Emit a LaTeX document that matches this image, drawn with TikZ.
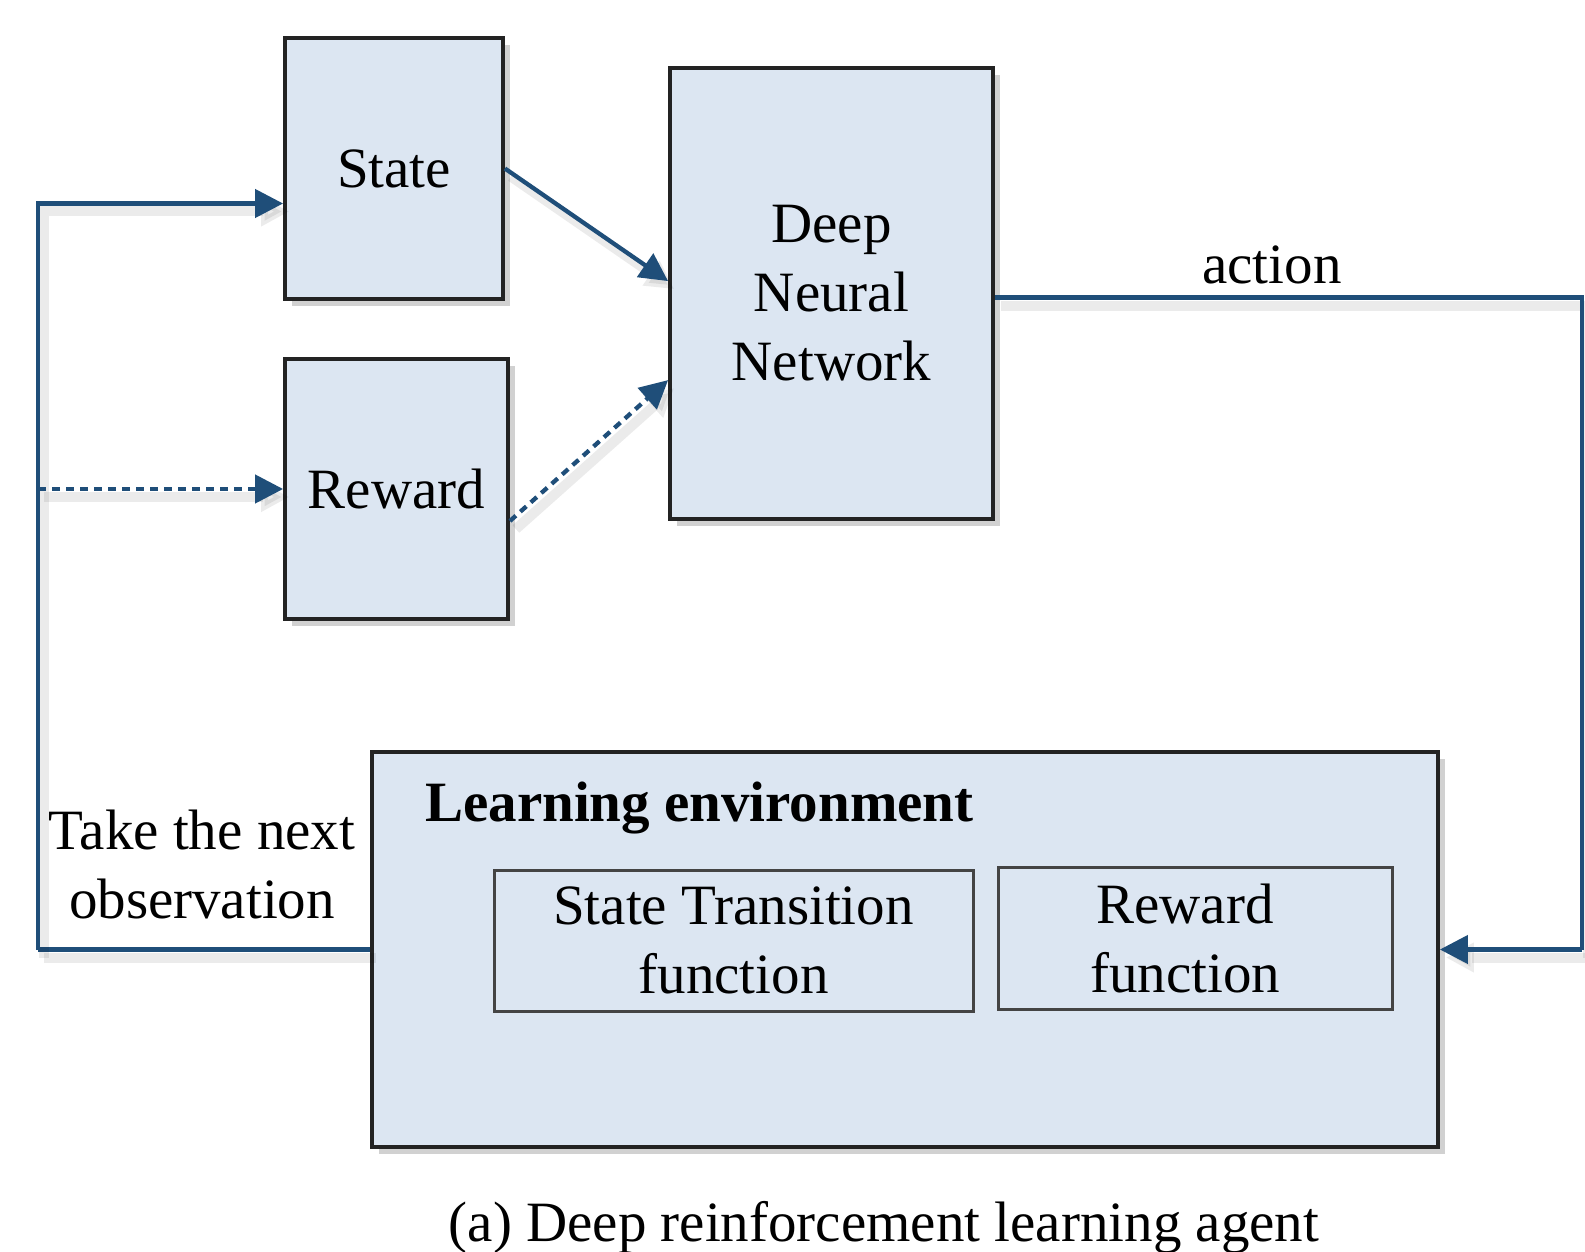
\documentclass[tikz,border=0pt]{standalone}
\usepackage{fontspec}
\setmainfont{Liberation Serif}
\usetikzlibrary{arrows.meta,shadows}
\definecolor{boxfill}{RGB}{220,230,242}
\definecolor{flowblue}{RGB}{31,78,121}
\definecolor{boxline}{RGB}{35,35,35}
\tikzset{
  block/.style={draw=boxline, line width=3.8pt, fill=boxfill, inner sep=0pt,
    align=center, font=\fontsize{57}{69}\selectfont,
    drop shadow={shadow xshift=7pt, shadow yshift=-7pt, fill=black, opacity=0.18}},
  inner block/.style={draw=boxline!85, line width=3pt, fill=boxfill, inner sep=0pt,
    align=center, font=\fontsize{57}{69}\selectfont},
  soft shade/.style={preaction={draw=black, opacity=0.08, line width=10pt,
    transform canvas={shift={(6pt,-8pt)}}}},
  link/.style={draw=flowblue, line width=4.3pt, soft shade},
  flow/.style={link, -{Triangle[length=28pt,width=28pt]}},
  dotflow/.style={flow, dash pattern=on 8pt off 6pt},
  label/.style={font=\fontsize{57}{69}\selectfont, align=center, inner sep=0pt}
}
\begin{document}
\begin{tikzpicture}[x=1pt, y=-1pt]
  \useasboundingbox (0,0) rectangle (1585,1252);

  % agent blocks
  \node[block, minimum width=218pt, minimum height=261pt] (state) at (394,168.5) {State};
  \node[block, minimum width=223pt, minimum height=260pt] (reward) at (396.5,489) {Reward};
  \node[block, minimum width=323pt, minimum height=451pt] (dnn) at (831.5,293.5) {Deep\\Neural\\Network};

  % environment and its two functions
  \node[block, minimum width=1066pt, minimum height=395pt] (env) at (905,949.5) {};
  \node[label, font=\fontsize{57}{69}\selectfont\bfseries, anchor=base west] (envtitle) at (425,821) {Learning environment};
  \node[inner block, minimum width=479pt, minimum height=141pt] (stf) at (733.5,940.5) {State Transition\\function};
  \node[inner block, minimum width=394pt, minimum height=142pt] (rf) at (1195,938) {\hspace*{-20pt}Reward\\\hspace*{-20pt}function};

  % loop corners
  \coordinate (loopL) at (38,949.5);
  \coordinate (loopR) at (1582,949.5);

  % inputs into the network
  \draw[flow] (state.east) -- ([yshift=-215pt]dnn.north west);
  \draw[dotflow] ([yshift=-32pt]reward.east) -- ([yshift=-314pt]dnn.north west);

  % action to the environment
  \draw[link] ([yshift=-4pt]dnn.east) -| (loopR);
  \draw[flow] (loopR) -- (env.east);

  % observation back to the agent
  \draw[link] (env.west) -- (loopL);
  \draw[flow] (loopL) |- ([yshift=-35pt]state.west);
  \draw[dotflow] (loopL |- reward.west) -- (reward.west);

  % labels
  \node[label, anchor=base] (actionlbl) at (1272,283) {action};
  \node[label, anchor=base] (obs1) at (202,849) {Take the next};
  \node[label, anchor=base] (obs2) at (202,918) {observation};
  \node[label, anchor=base] (caption) at (884,1241) {(a) Deep reinforcement learning agent};
\end{tikzpicture}
\end{document}
